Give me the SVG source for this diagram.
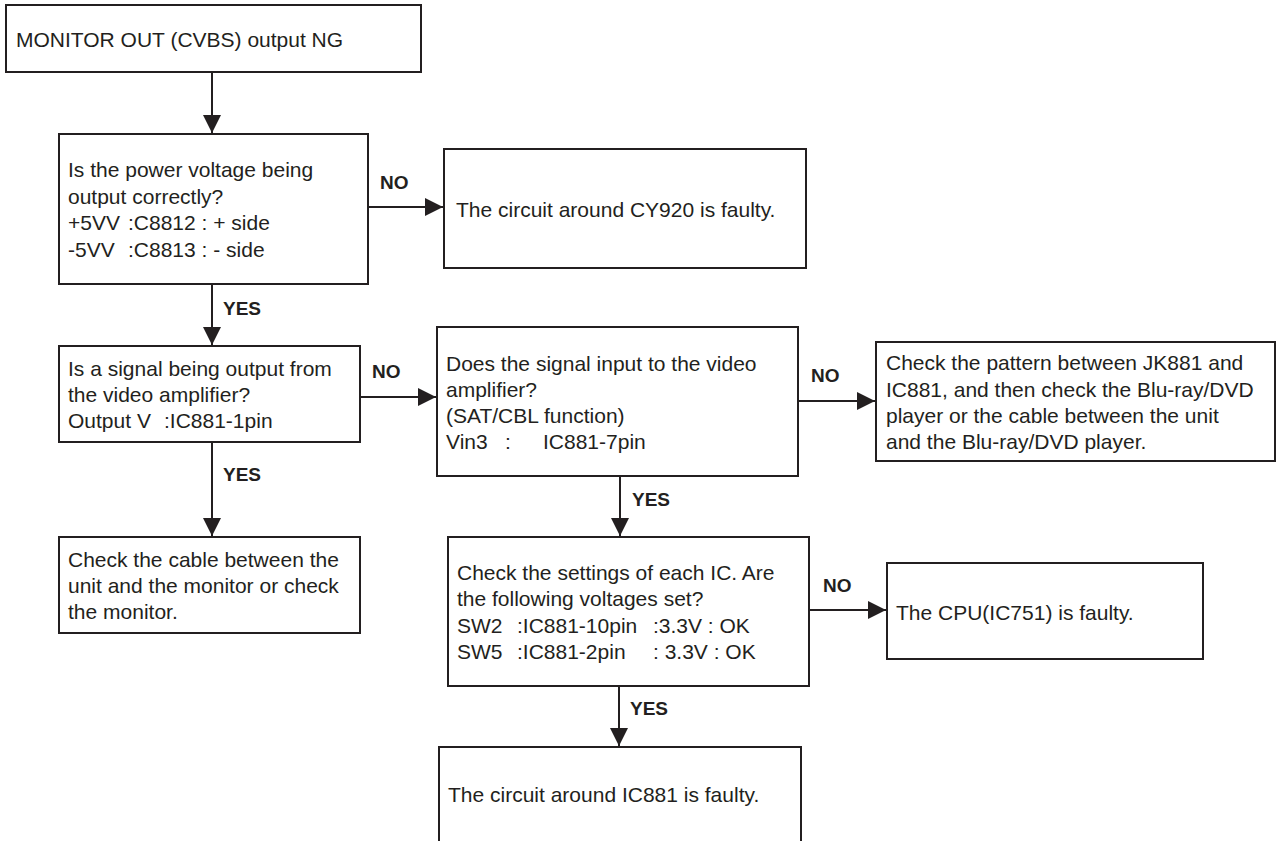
<svg xmlns="http://www.w3.org/2000/svg" width="1277" height="841" viewBox="0 0 1277 841">
  <style>
    .box { fill: #ffffff; stroke: #231f20; stroke-width: 2; }
    .txt { font-family: "Liberation Sans", Arial, sans-serif; font-size: 21px; fill: #231f20; }
    .lbl { font-family: "Liberation Sans", Arial, sans-serif; font-size: 19px; font-weight: bold; fill: #231f20; }
    .wire { fill: none; stroke: #231f20; stroke-width: 2; marker-end: url(#head); }
  </style>
  <defs>
    <marker id="head" markerUnits="userSpaceOnUse" markerWidth="18" markerHeight="18" refX="18" refY="9" orient="auto">
      <path d="M0,0 L18,9 L0,18 Z" fill="#231f20"/>
    </marker>
  </defs>
  <rect width="1277" height="841" fill="#ffffff"/>

  <g id="n-start">
    <rect class="box" x="6" y="5" width="415" height="67"/>
    <text class="txt" x="16" y="47">MONITOR OUT (CVBS) output NG</text>
  </g>

  <g id="n-power">
    <rect class="box" x="59" y="134" width="309" height="150"/>
    <text class="txt" x="68" y="177">Is the power voltage being</text>
    <text class="txt" x="68" y="203.5">output correctly?</text>
    <text class="txt" x="68" y="230">+5VV<tspan x="128">:C8812 : + side</tspan></text>
    <text class="txt" x="68" y="257">-5VV<tspan x="128">:C8813 : - side</tspan></text>
  </g>

  <g id="n-cy920">
    <rect class="box" x="444" y="149" width="362" height="119"/>
    <text class="txt" x="456" y="217">The circuit around CY920 is faulty.</text>
  </g>

  <g id="n-amp-out">
    <rect class="box" x="59" y="346" width="301" height="96"/>
    <text class="txt" x="68" y="376">Is a signal being output from</text>
    <text class="txt" x="68" y="402">the video amplifier?</text>
    <text class="txt" x="68" y="428">Output V<tspan x="164">:IC881-1pin</tspan></text>
  </g>

  <g id="n-monitor">
    <rect class="box" x="59" y="537" width="301" height="96"/>
    <text class="txt" x="68" y="567">Check the cable between the</text>
    <text class="txt" x="68" y="593">unit and the monitor or check</text>
    <text class="txt" x="68" y="619">the monitor.</text>
  </g>

  <g id="n-amp-in">
    <rect class="box" x="437" y="327" width="361" height="149"/>
    <text class="txt" x="446" y="371">Does the signal input to the video</text>
    <text class="txt" x="446" y="397">amplifier?</text>
    <text class="txt" x="446" y="423">(SAT/CBL function)</text>
    <text class="txt" x="446" y="449">Vin3<tspan x="505">:</tspan><tspan x="543">IC881-7pin</tspan></text>
  </g>

  <g id="n-pattern">
    <rect class="box" x="876" y="342" width="399" height="119"/>
    <text class="txt" x="886" y="370">Check the pattern between JK881 and</text>
    <text class="txt" x="886" y="397">IC881, and then check the Blu-ray/DVD</text>
    <text class="txt" x="886" y="423">player or the cable between the unit</text>
    <text class="txt" x="886" y="449">and the Blu-ray/DVD player.</text>
  </g>

  <g id="n-settings">
    <rect class="box" x="448" y="537" width="361" height="149"/>
    <text class="txt" x="457" y="580">Check the settings of each IC. Are</text>
    <text class="txt" x="457" y="606">the following voltages set?</text>
    <text class="txt" x="457" y="633">SW2<tspan x="517">:IC881-10pin</tspan><tspan x="653">:3.3V : OK</tspan></text>
    <text class="txt" x="457" y="659">SW5<tspan x="517">:IC881-2pin</tspan><tspan x="653">: 3.3V : OK</tspan></text>
  </g>

  <g id="n-cpu">
    <rect class="box" x="887" y="563" width="316" height="96"/>
    <text class="txt" x="896" y="620">The CPU(IC751) is faulty.</text>
  </g>

  <g id="n-ic881">
    <rect class="box" x="439" y="747" width="362" height="110"/>
    <text class="txt" x="448" y="802">The circuit around IC881 is faulty.</text>
  </g>

  <g id="connectors">
    <path class="wire" d="M212,72 V133"/>
    <path class="wire" d="M368,207 H443"/>
    <text class="lbl" x="380" y="189">NO</text>
    <path class="wire" d="M212,284 V345"/>
    <text class="lbl" x="223" y="315">YES</text>
    <path class="wire" d="M360,397 H436"/>
    <text class="lbl" x="372" y="378">NO</text>
    <path class="wire" d="M212,442 V536"/>
    <text class="lbl" x="223" y="481">YES</text>
    <path class="wire" d="M798,401 H875"/>
    <text class="lbl" x="811" y="382">NO</text>
    <path class="wire" d="M620,476 V536"/>
    <text class="lbl" x="632" y="506">YES</text>
    <path class="wire" d="M809,610 H886"/>
    <text class="lbl" x="823" y="592">NO</text>
    <path class="wire" d="M619,686 V746"/>
    <text class="lbl" x="630" y="715">YES</text>
  </g>
</svg>
